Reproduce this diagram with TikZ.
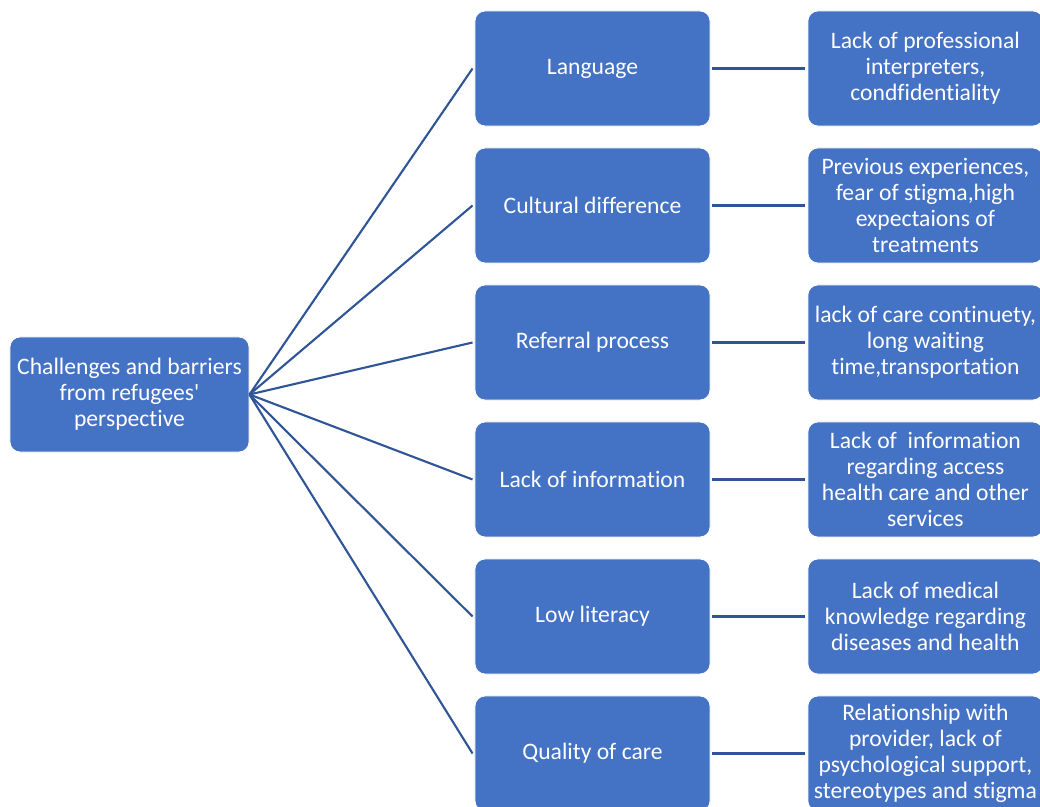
\documentclass[tikz,border=0pt]{standalone}
\usepackage{fontspec}
\setmainfont{Carlito}[Ligatures=CommonOff]
\usetikzlibrary{shapes,positioning,arrows,calc}
\usepackage{xcolor}
\definecolor{boxblue}{HTML}{4472C4}
\definecolor{linkblue}{HTML}{2F5597}

\begin{document}
\begin{tikzpicture}[x=0.025cm, y=-0.025cm]

	\tikzstyle{stdrect}=[draw=white, line width=0.6pt, fill=boxblue, rounded corners=0.25cm, text=white, align=center, font=\fontsize{16.8}{18.5}\selectfont, minimum width = 5.875cm, minimum height = 2.875cm, inner sep = 0pt];
	\tikzstyle{link}=[draw=linkblue, line width=1.5pt];

	\useasboundingbox (0,0) rectangle (1040,807);
	\clip (0,0) rectangle (1040,807);

    \begin{scope}[>=stealth]

    	\node (root) at (129.5,394.5) [stdrect, minimum width = 5.975cm]{Challenges and barriers\\from refugees\textquotesingle\\perspective};

    	\node (language) at (592.5,68.5) [stdrect]{Language};
    	\node (culture) at (592.5,205.5) [stdrect]{Cultural difference};
    	\node (referral) at (592.5,342.5) [stdrect]{Referral process};
    	\node (information) at (592.5,479.5) [stdrect]{Lack of information};
    	\node (literacy) at (592.5,616.5) [stdrect]{Low literacy};
    	\node (quality) at (592.5,753.5) [stdrect]{Quality of care};

    	\node (language_d) [right = 2.425cm of language, stdrect]{Lack of professional\\interpreters,\\condfidentiality};
    	\node (culture_d) [right = 2.425cm of culture, stdrect]{Previous experiences,\\fear of stigma,high\\expectaions of\\treatments};
    	\node (referral_d) [right = 2.425cm of referral, stdrect]{lack of care continuety,\\long waiting\\time,transportation};
    	\node (information_d) [right = 2.425cm of information, stdrect]{Lack of\ \ information\\regarding access\\health care and other\\services};
    	\node (literacy_d) [right = 2.425cm of literacy, stdrect]{Lack of medical\\knowledge regarding\\diseases and health};
    	\node (quality_d) [right = 2.425cm of quality, stdrect]{Relationship with\\provider, lack of\\psychological support,\\stereotypes and stigma};

    	\foreach \n in {language,culture,referral,information,literacy,quality}
    	{
    		\draw[link] (root.east) -- ([xshift=-0.05cm]\n.west);
    		\draw[link] ([xshift=0.05cm]\n.east) -- ([xshift=-0.05cm]\n_d.west);
    	}

    \end{scope}
    \end{tikzpicture}
\end{document}
